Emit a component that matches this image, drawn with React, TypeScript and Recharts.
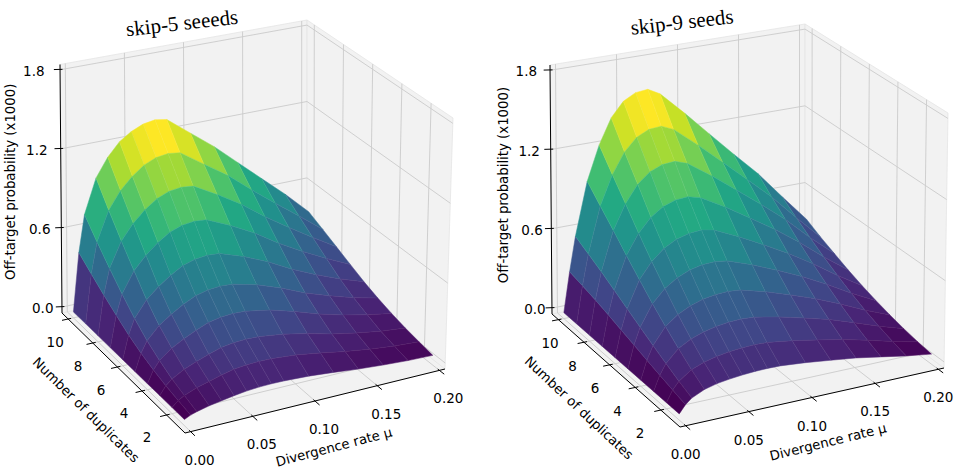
import { ScatterChart, Scatter, XAxis, YAxis } from 'recharts'

// divergence rate columns and duplicate rows of both surfaces
const MU = [0, 0.005, 0.01, 0.02, 0.03, 0.04, 0.05, 0.06, 0.07, 0.08, 0.1, 0.12, 0.14, 0.16, 0.18, 0.2]
const DUPLICATES = [1, 2, 3, 4, 5, 6, 7, 8, 9, 10]

// off-target probability (x1000), one row per number of duplicates
const SKIP5 = [
  [0, 0.021, 0.035, 0.056, 0.071, 0.086, 0.098, 0.105, 0.107, 0.106, 0.097, 0.08, 0.06, 0.045, 0.033, 0.027],
  [0, 0.04, 0.066, 0.102, 0.127, 0.152, 0.173, 0.183, 0.187, 0.185, 0.17, 0.141, 0.107, 0.081, 0.06, 0.047],
  [0, 0.061, 0.101, 0.151, 0.187, 0.22, 0.248, 0.262, 0.267, 0.264, 0.241, 0.202, 0.155, 0.119, 0.089, 0.069],
  [0, 0.091, 0.15, 0.221, 0.269, 0.313, 0.349, 0.368, 0.374, 0.37, 0.337, 0.284, 0.222, 0.172, 0.13, 0.098],
  [0, 0.127, 0.209, 0.303, 0.366, 0.419, 0.463, 0.486, 0.494, 0.489, 0.443, 0.377, 0.298, 0.234, 0.177, 0.132],
  [0, 0.174, 0.287, 0.408, 0.487, 0.552, 0.604, 0.632, 0.641, 0.635, 0.572, 0.492, 0.395, 0.312, 0.238, 0.174],
  [0, 0.234, 0.383, 0.537, 0.635, 0.711, 0.771, 0.803, 0.814, 0.806, 0.724, 0.627, 0.51, 0.407, 0.312, 0.225],
  [0, 0.297, 0.487, 0.675, 0.79, 0.875, 0.94, 0.976, 0.988, 0.978, 0.876, 0.764, 0.63, 0.507, 0.391, 0.278],
  [0, 0.367, 0.6, 0.821, 0.952, 1.043, 1.11, 1.148, 1.161, 1.149, 1.025, 0.902, 0.753, 0.612, 0.474, 0.332],
  [0, 0.44, 0.72, 0.98, 1.12, 1.22, 1.28, 1.32, 1.335, 1.32, 1.18, 1.04, 0.88, 0.72, 0.56, 0.385],
]
const SKIP9 = [
  [0, 0.057, 0.095, 0.137, 0.16, 0.173, 0.182, 0.188, 0.19, 0.188, 0.171, 0.148, 0.124, 0.091, 0.057, 0.029],
  [0, 0.082, 0.137, 0.201, 0.236, 0.258, 0.273, 0.281, 0.284, 0.281, 0.254, 0.22, 0.183, 0.137, 0.087, 0.045],
  [0, 0.109, 0.185, 0.275, 0.326, 0.358, 0.379, 0.391, 0.395, 0.389, 0.352, 0.304, 0.254, 0.191, 0.124, 0.066],
  [0, 0.137, 0.235, 0.356, 0.426, 0.471, 0.501, 0.516, 0.521, 0.512, 0.461, 0.399, 0.332, 0.253, 0.167, 0.092],
  [0, 0.167, 0.289, 0.445, 0.538, 0.599, 0.638, 0.659, 0.664, 0.651, 0.584, 0.505, 0.421, 0.324, 0.217, 0.123],
  [0, 0.196, 0.344, 0.541, 0.659, 0.74, 0.79, 0.815, 0.822, 0.804, 0.718, 0.62, 0.518, 0.402, 0.275, 0.159],
  [0, 0.226, 0.401, 0.642, 0.791, 0.894, 0.956, 0.988, 0.995, 0.97, 0.865, 0.745, 0.623, 0.489, 0.339, 0.201],
  [0, 0.254, 0.457, 0.75, 0.933, 1.062, 1.14, 1.177, 1.185, 1.153, 1.024, 0.882, 0.737, 0.584, 0.411, 0.25],
  [0, 0.278, 0.509, 0.853, 1.073, 1.229, 1.323, 1.367, 1.375, 1.334, 1.181, 1.016, 0.85, 0.681, 0.487, 0.301],
  [0, 0.3, 0.56, 0.96, 1.22, 1.41, 1.52, 1.57, 1.58, 1.53, 1.35, 1.16, 0.97, 0.785, 0.57, 0.36],
]

const MU_TICKS = [0, 0.05, 0.1, 0.15, 0.2]
const MU_TICK_LABELS = ['0.00', '0.05', '0.10', '0.15', '0.20']
const N_TICKS = [2, 4, 6, 8, 10]
const N_TICK_LABELS = ['2', '4', '6', '8', '10']
const Z_TICKS = [0, 0.6, 1.2, 1.8]
const Z_TICK_LABELS = ['0.0', '0.6', '1.2', '1.8']

const TITLES = ['skip-5 seeeds', 'skip-9 seeds']

// axis box limits
const MU_LIM = [-0.0045, 0.2045]
const N_LIM = [0.5, 10.5]
const Z_LIM = [-0.045, 1.84]

const W = 960
const H = 471

type P = [number, number]

// screen corners of each 3d box: f=front, r=right, l=left, b=back; 0 bottom, 1 top
const VIEWS = [
  {
    f0: [185, 433], r0: [445, 369], l0: [62, 313], b0: [307, 260],
    f1: [184, 175], r1: [453, 118], l1: [60, 64.5], b1: [307, 20],
    muOff: [9, 28], nOffBack: [-13, 23], nOffFront: [-19.5, 22], zOff: [-19.2, -26.2],
    title: [182, 23], muTitle: [19, 46, -14.8], nTitle: [-37.5, 37, 44.5], zTitle: [-51, -7],
  },
  {
    f0: [680, 427], r0: [944, 368], l0: [552, 314], b0: [805, 265],
    f1: [679, 167], r1: [948, 113], l1: [550, 65], b1: [805, 24],
    muOff: [0, 28], nOffBack: [-8.4, 23.6], nOffFront: [-20.8, 23.3], zOff: [-17, -23.7],
    title: [682, 22], muTitle: [16, 44.5, -13.8], nTitle: [-37, 37.5, 43.2], zTitle: [-48, -4.5],
  },
]

const VIRIDIS = ['#440154', '#482475', '#414487', '#355f8d', '#2a788e', '#21918c', '#22a884', '#44bf70', '#7ad151', '#bddf26', '#fde725']

const hexRgb = (h: string) => [1, 3, 5].map((i) => parseInt(h.slice(i, i + 2), 16))

function viridis(t: number, lighten = 0) {
  const c = Math.max(0, Math.min(1, t)) * 10
  const i = Math.min(9, Math.floor(c))
  const f = c - i
  const a = hexRgb(VIRIDIS[i])
  const b = hexRgb(VIRIDIS[i + 1])
  const rgb = a.map((v, k) => {
    const m = v + (b[k] - v) * f
    return Math.round(m + (255 - m) * lighten)
  })
  return `rgb(${rgb.join(',')})`
}

type View = (typeof VIEWS)[number]

function project(view: View, u: number, v: number, w: number): P {
  const c = view as any
  const mix = (k: number) =>
    (1 - u) * (1 - v) * (1 - w) * c.f0[k] + u * (1 - v) * (1 - w) * c.r0[k] +
    (1 - u) * v * (1 - w) * c.l0[k] + u * v * (1 - w) * c.b0[k] +
    (1 - u) * (1 - v) * w * c.f1[k] + u * (1 - v) * w * c.r1[k] +
    (1 - u) * v * w * c.l1[k] + u * v * w * c.b1[k]
  return [mix(0), mix(1)]
}

const nu = (mu: number) => (mu - MU_LIM[0]) / (MU_LIM[1] - MU_LIM[0])
const nv = (n: number) => (n - N_LIM[0]) / (N_LIM[1] - N_LIM[0])
const nw = (z: number) => (z - Z_LIM[0]) / (Z_LIM[1] - Z_LIM[0])

type Item = {
  sx: number
  sy: number
  kind: 'poly' | 'line' | 'text'
  pts?: P[]
  fill?: string
  stroke?: string
  sw?: number
  text?: string
  angle?: number
  size?: number
  family?: string
}

const poly = (pts: P[], fill: string, stroke: string, sw: number): Item => ({ sx: pts[0][0], sy: pts[0][1], kind: 'poly', pts, fill, stroke, sw })
const line = (a: P, b: P, stroke: string, sw: number): Item => ({ sx: a[0], sy: a[1], kind: 'line', pts: [a, b], stroke, sw })
const label = (x: number, y: number, text: string, size: number, family: string, angle = 0): Item => ({ sx: x, sy: y, kind: 'text', text, size, family, angle })

const GRID = '#cbcbcb'
const PANE = '#f2f2f2'
const SANS = 'DejaVu Sans, sans-serif'

function buildPanel(view: View, values: number[][], title: string) {
  const back: Item[] = []
  const front: Item[] = []
  const pr = (u: number, v: number, w: number) => project(view, u, v, w)

  // panes
  back.push(poly([pr(0, 0, 0), pr(1, 0, 0), pr(1, 1, 0), pr(0, 1, 0)], PANE, '#ececec', 0.8))
  back.push(poly([pr(0, 1, 0), pr(1, 1, 0), pr(1, 1, 1), pr(0, 1, 1)], PANE, '#e4e4e4', 0.8))
  back.push(poly([pr(1, 0, 0), pr(1, 1, 0), pr(1, 1, 1), pr(1, 0, 1)], PANE, '#e4e4e4', 0.8))

  // grid lines
  MU_TICKS.forEach((m) => {
    const u = nu(m)
    back.push(line(pr(u, 0, 0), pr(u, 1, 0), GRID, 0.9))
    back.push(line(pr(u, 1, 0), pr(u, 1, 1), GRID, 0.9))
  })
  N_TICKS.forEach((n) => {
    const v = nv(n)
    back.push(line(pr(0, v, 0), pr(1, v, 0), GRID, 0.9))
    back.push(line(pr(1, v, 0), pr(1, v, 1), GRID, 0.9))
  })
  Z_TICKS.forEach((z) => {
    const w = nw(z)
    back.push(line(pr(0, 1, w), pr(1, 1, w), GRID, 0.9))
    back.push(line(pr(1, 0, w), pr(1, 1, w), GRID, 0.9))
  })

  // surface faces, painted back to front, coloured by mean height
  const raw: { depth: number; z: number; pts: P[] }[] = []
  for (let i = 0; i < DUPLICATES.length - 1; i++) {
    for (let j = 0; j < MU.length - 1; j++) {
      const corners: [number, number, number][] = [
        [MU[j], DUPLICATES[i], values[i][j]],
        [MU[j + 1], DUPLICATES[i], values[i][j + 1]],
        [MU[j + 1], DUPLICATES[i + 1], values[i + 1][j + 1]],
        [MU[j], DUPLICATES[i + 1], values[i + 1][j]],
      ]
      const uvw = corners.map(([m, n, z]) => [nu(m), nv(n), nw(z)])
      const zAvg = corners.reduce((s, c) => s + c[2], 0) / 4
      const cu = uvw.reduce((s, c) => s + c[0], 0) / 4
      const cv = uvw.reduce((s, c) => s + c[1], 0) / 4
      const cw = uvw.reduce((s, c) => s + c[2], 0) / 4
      const pts = uvw.map(([u, v, w]) => pr(u, v, w))
      raw.push({ depth: cu + 2.114 * cv - 1.275 * cw, z: zAvg, pts })
    }
  }
  const zLo = Math.min(...raw.map((f) => f.z))
  const zHi = Math.max(...raw.map((f) => f.z))
  raw.sort((a, b) => b.depth - a.depth)
  const surface = raw.map((f) => {
    const t = (f.z - zLo) / (zHi - zLo)
    return poly(f.pts, viridis(t), viridis(t, 0.07), 0.5)
  })

  // axis lines and ticks
  front.push(line(pr(0, 0, 0), pr(1, 0, 0), '#000', 1))
  front.push(line(pr(0, 0, 0), pr(0, 1, 0), '#000', 1))
  front.push(line(pr(0, 1, 0), pr(0, 1, 1), '#000', 1))
  MU_TICKS.forEach((m, k) => {
    const u = nu(m)
    const a = pr(u, 0, 0)
    front.push(line(pr(u, 0.012, 0), pr(u, -0.035, 0), '#000', 1))
    front.push(label(a[0] + view.muOff[0], a[1] + view.muOff[1], MU_TICK_LABELS[k], 13.5, SANS))
  })
  N_TICKS.forEach((n, k) => {
    const v = nv(n)
    const a = pr(0, v, 0)
    front.push(line(pr(0.012, v, 0), pr(-0.025, v, 0), '#000', 1))
    const f = (v - 0.15) / 0.8
    const ox = view.nOffFront[0] + (view.nOffBack[0] - view.nOffFront[0]) * f
    const oy = view.nOffFront[1] + (view.nOffBack[1] - view.nOffFront[1]) * f
    front.push(label(a[0] + ox, a[1] + oy, N_TICK_LABELS[k], 13.5, SANS))
  })
  Z_TICKS.forEach((z, k) => {
    const w = nw(z)
    const a = pr(0, 1, w)
    front.push(line(pr(0.01, 1, w), pr(-0.02, 1.01, w), '#000', 1))
    const ox = view.zOff[0] + (view.zOff[1] - view.zOff[0]) * (z / 1.8)
    front.push(label(a[0] + ox, a[1] + 1, Z_TICK_LABELS[k], 13.5, SANS))
  })

  // axis titles
  const muMid = pr(0.5, 0, 0)
  front.push(label(muMid[0] + view.muTitle[0], muMid[1] + view.muTitle[1], 'Divergence rate μ', 13.3, SANS, view.muTitle[2]))
  const nMid = pr(0, 0.5, 0)
  front.push(label(nMid[0] + view.nTitle[0], nMid[1] + view.nTitle[1], 'Number of duplicates', 13.3, SANS, view.nTitle[2]))
  const zMid = pr(0, 1, 0.5)
  front.push(label(zMid[0] + view.zTitle[0], zMid[1] + view.zTitle[1], 'Off-target probability (x1000)', 13.3, SANS, -90))
  front.push(label(view.title[0], view.title[1], title, 21, 'Liberation Serif, serif', -6.5))

  return { back, surface, front }
}

const PANELS = [buildPanel(VIEWS[0], SKIP5, TITLES[0]), buildPanel(VIEWS[1], SKIP9, TITLES[1])]

const renderPrim = (props: any) => {
  const { cx, cy, payload } = props
  const p = payload as Item
  if (!p || cx == null || cy == null) return <g />
  const dx = cx - p.sx
  const dy = cy - p.sy
  if (p.kind === 'poly') {
    const pts = p.pts!.map(([x, y]) => `${x + dx},${y + dy}`).join(' ')
    return <polygon points={pts} fill={p.fill} stroke={p.stroke} strokeWidth={p.sw} strokeLinejoin="round" />
  }
  if (p.kind === 'line') {
    const [a, b] = p.pts!
    return <line x1={a[0] + dx} y1={a[1] + dy} x2={b[0] + dx} y2={b[1] + dy} stroke={p.stroke} strokeWidth={p.sw} />
  }
  return (
    <text
      x={cx}
      y={cy}
      textAnchor="middle"
      dominantBaseline="central"
      fontSize={p.size}
      fontFamily={p.family}
      fill="#000"
      transform={p.angle ? `rotate(${p.angle} ${cx} ${cy})` : undefined}
    >
      {p.text}
    </text>
  )
}

export default function App() {
  return (
    <div style={{ position: 'absolute', left: 0, top: 0, width: W, height: H, background: '#fff' }}>
      <ScatterChart width={W} height={H} margin={{ top: 0, right: 0, bottom: 0, left: 0 }}>
        <XAxis type="number" dataKey="sx" domain={[0, W]} allowDataOverflow hide />
        <YAxis type="number" dataKey="sy" domain={[0, H]} allowDataOverflow reversed hide />
        {PANELS.map((p, i) => (
          <Scatter key={`back${i}`} data={p.back} shape={renderPrim} isAnimationActive={false} />
        ))}
        {PANELS.map((p, i) => (
          <Scatter key={`surf${i}`} data={p.surface} shape={renderPrim} isAnimationActive={false} />
        ))}
        {PANELS.map((p, i) => (
          <Scatter key={`front${i}`} data={p.front} shape={renderPrim} isAnimationActive={false} />
        ))}
      </ScatterChart>
    </div>
  )
}
